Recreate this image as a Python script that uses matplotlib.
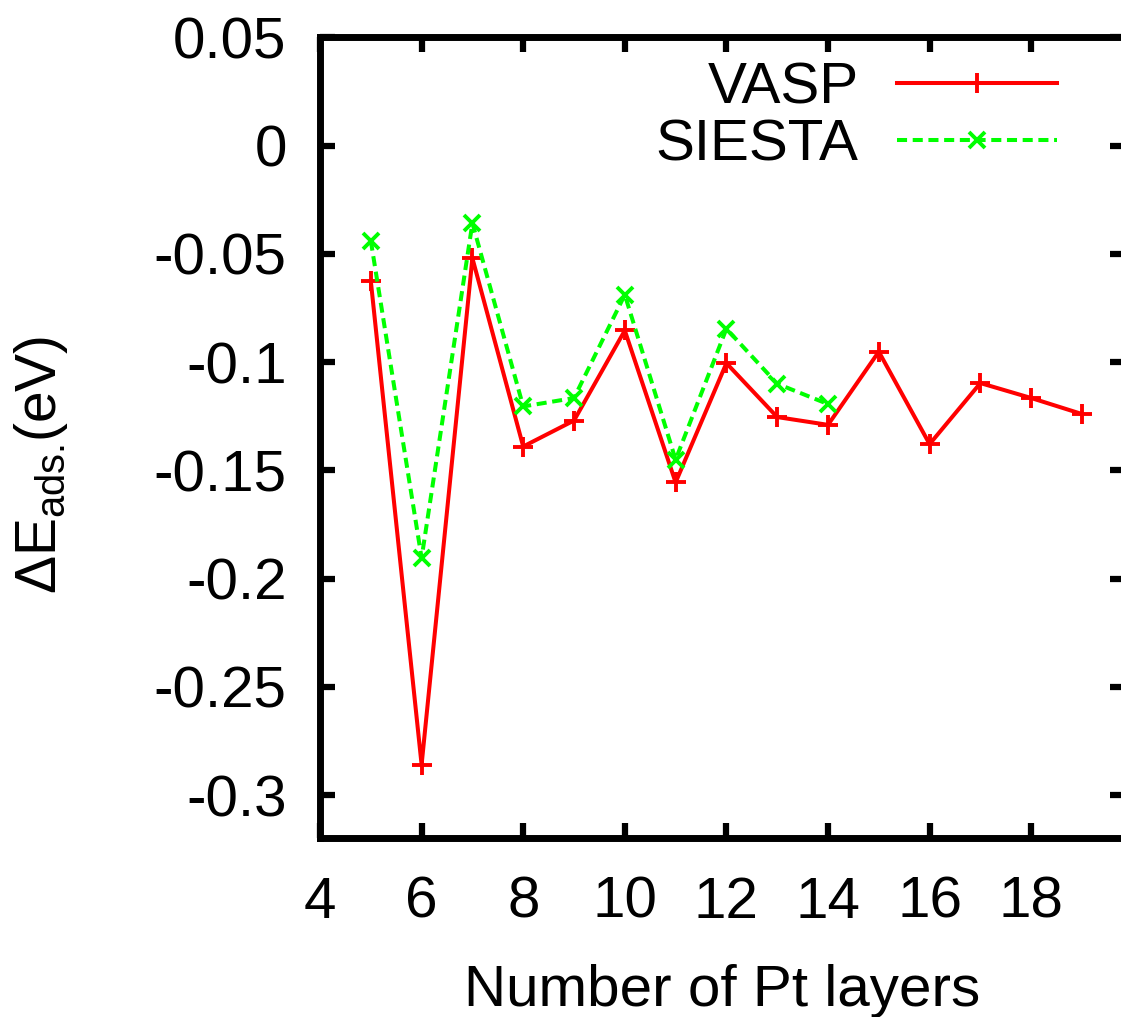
import matplotlib
matplotlib.use('Agg')
import matplotlib.pyplot as plt

plt.rcParams['font.family'] = ['Liberation Sans', 'DejaVu Sans']
plt.rcParams['mathtext.fontset'] = 'custom'
plt.rcParams['mathtext.rm'] = 'Liberation Sans'

# data
layers_vasp = [5, 6, 7, 8, 9, 10, 11, 12, 13, 14, 15, 16, 17, 18, 19]
e_vasp = [-0.0625, -0.286, -0.052, -0.139, -0.127, -0.0854, -0.1556, -0.1005,
          -0.1254, -0.129, -0.0952, -0.1379, -0.1097, -0.1166, -0.124]

layers_siesta = [5, 6, 7, 8, 9, 10, 11, 12, 13, 14]
e_siesta = [-0.0439, -0.1905, -0.0358, -0.1205, -0.1166, -0.0689, -0.1451,
            -0.0846, -0.110, -0.1194]

x_ticks = [4, 6, 8, 10, 12, 14, 16, 18]
y_ticks = [0.05, 0, -0.05, -0.1, -0.15, -0.2, -0.25, -0.3]
y_ticklabels = ['0.05', '0', '-0.05', '-0.1', '-0.15', '-0.2', '-0.25', '-0.3']

W, H = 1121, 1017
fig = plt.figure(figsize=(W / 100, H / 100), dpi=100)
left, right, top, bottom = 320.0, 1125.0, 37.4, 838.3
ax = fig.add_axes([left / W, 1 - bottom / H, (right - left) / W, (bottom - top) / H])

ax.plot(layers_vasp, e_vasp, color='#ff0000', lw=2.9, marker='+', ms=14, mew=2.8,
        label='VASP')
ax.plot(layers_siesta, e_siesta, color='#00ff00', lw=2.9, ls=(0, (2.5, 1.4)),
        marker='x', ms=12, mew=2.8, label='SIESTA')

ax.set_xlim(4, 4 + (right - left) / 50.8)
ax.set_ylim(-0.32, 0.05)
ax.set_xticks(x_ticks)
ax.set_yticks(y_ticks)
ax.set_yticklabels(y_ticklabels)

for s in ax.spines.values():
    s.set_linewidth(5)
ax.tick_params(direction='in', length=11, width=4.5, labelsize=42,
               top=True, right=True)
ax.tick_params(axis='y', pad=24)
ax.tick_params(axis='x', pad=27)

ax.set_xlabel('Number of Pt layers', fontsize=42)
ax.xaxis.set_label_coords(0.5, -0.157)
ax.set_ylabel(r'$\mathregular{ΔE_{ads.}\!(eV)}$', fontsize=41)
ax.yaxis.set_label_coords(-0.31, 0.466)

leg = ax.legend(loc='upper right', bbox_to_anchor=(1 - 68 / (right - left), 1 - 24 / (bottom - top)),
                frameon=False, fontsize=42, markerfirst=False, handlelength=2.75,
                handletextpad=0.65, labelspacing=0.05, borderpad=0, borderaxespad=0)

fig.savefig('out.png', dpi=100)
